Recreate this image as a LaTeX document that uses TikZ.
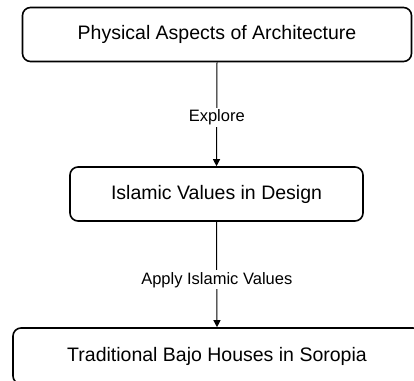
\documentclass[tikz,border=0pt]{standalone}
\usepackage{fontspec}
\setmainfont{Liberation Sans}
\usetikzlibrary{arrows.meta}

\begin{document}
\begin{tikzpicture}[x=1pt,y=1pt,
    box/.style={draw,line width=1.6pt,rounded corners=8pt,font=\fontsize{19.5}{22}\selectfont,inner sep=0pt},
    link/.style={line width=1pt,-{Triangle[length=7pt,width=7pt]}},
    lbl/.style={fill=white,inner sep=2pt,font=\fontsize{16.5}{18}\selectfont}]
    \useasboundingbox (0,0) rectangle (414,-380);

    \node[box,minimum width=389pt,minimum height=54pt] (phys) at (217,-34.5) {Physical Aspects of Architecture};
    \node[box,minimum width=293pt,minimum height=54pt] (isl) at (216.5,-194) {Islamic Values in Design};
    \node[box,minimum width=408pt,minimum height=56pt] (bajo) at (217,-356) {Traditional Bajo Houses in Soropia};

    \draw[link]
      (phys.south) -- (isl.north) node[lbl,pos=0.53]{Explore};
    \draw[link]
      (isl.south) -- (bajo.north) node[lbl,pos=0.55]{Apply Islamic Values};
\end{tikzpicture}
\end{document}
